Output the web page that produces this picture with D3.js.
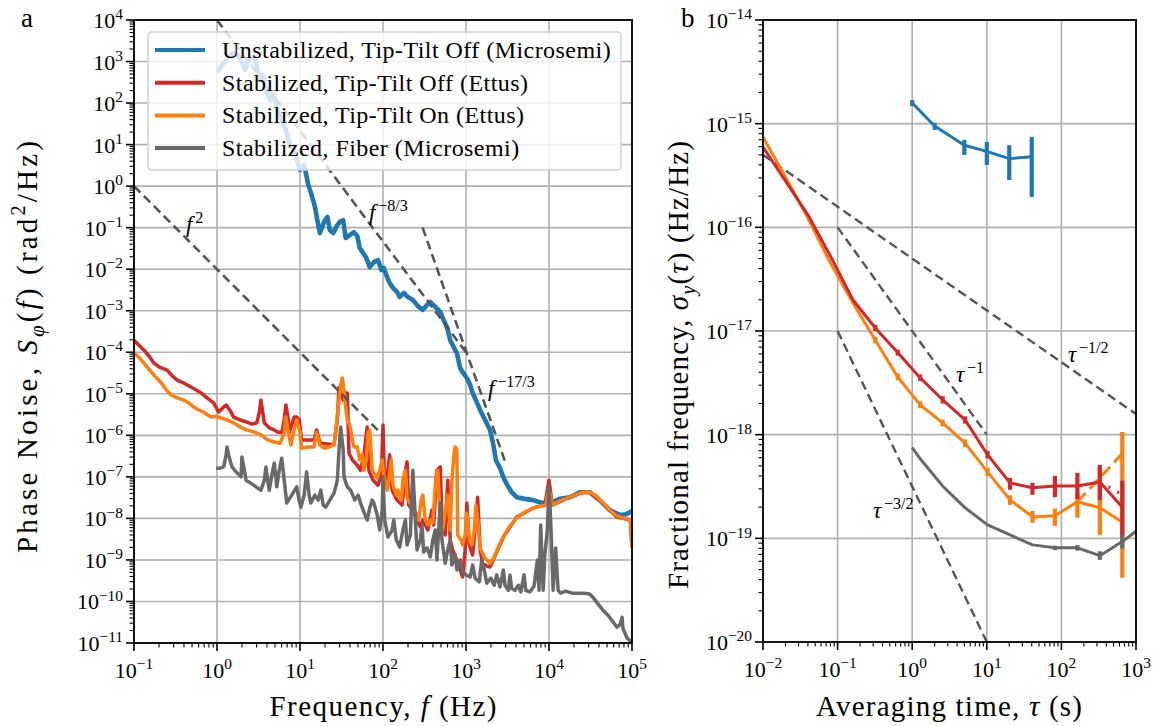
<!DOCTYPE html>
<html lang="en">
<head>
<meta charset="utf-8">
<title>Phase noise and fractional frequency stability</title>
<script src="https://d3js.org/d3.v7.min.js"></script>
<style>
body{margin:0;background:#fff;}
svg text{font-family:"Liberation Serif","Times New Roman",serif;fill:#000;}
</style>
</head>
<body>
<script>
// ---------- panel a: phase noise, pairs are [log10 f (Hz), log10 S (rad^2/Hz)] ----------
const unstabilizedLog = [[0.01,2.75],[0.06,2.92],[0.13,3.08],[0.19,3.21],[0.25,3.16],[0.30,2.99],[0.34,2.80],[0.37,2.99],[0.42,3.08],[0.46,3.11],[0.48,2.84],[0.52,2.56],[0.55,2.68],[0.59,2.31],[0.64,2.07],[0.69,2.19],[0.73,1.83],[0.78,1.59],[0.83,1.35],[0.88,0.99],[0.93,0.87],[0.96,0.63],[1.00,0.39],[1.05,0.51],[1.10,0.03],[1.14,-0.21],[1.18,-0.50],[1.22,-0.94],[1.24,-1.13],[1.29,-0.86],[1.33,-0.74],[1.36,-1.06],[1.40,-1.13],[1.45,-0.94],[1.48,-0.86],[1.52,-0.82],[1.55,-1.25],[1.60,-1.18],[1.65,-1.11],[1.69,-1.20],[1.72,-1.49],[1.76,-1.61],[1.80,-1.73],[1.84,-1.95],[1.89,-1.83],[1.94,-1.78],[1.98,-2.02],[2.01,-1.97],[2.05,-2.19],[2.08,-2.33],[2.12,-2.45],[2.17,-2.55],[2.20,-2.67],[2.25,-2.57],[2.30,-2.67],[2.36,-2.74],[2.42,-2.89],[2.48,-2.98],[2.53,-2.86],[2.57,-2.79],[2.63,-2.91],[2.69,-3.03],[2.73,-3.22],[2.77,-3.39],[2.81,-3.71],[2.84,-3.83],[2.89,-4.02],[2.93,-4.38],[2.96,-4.48],[3.01,-4.62],[3.05,-4.79],[3.08,-4.98],[3.13,-5.20],[3.17,-5.39],[3.23,-5.63],[3.29,-5.87],[3.33,-6.23],[3.36,-6.60],[3.41,-6.79],[3.45,-7.01],[3.49,-7.17],[3.55,-7.37],[3.61,-7.49],[3.71,-7.53],[3.81,-7.56],[3.89,-7.61],[4.00,-7.65],[4.13,-7.53],[4.25,-7.49],[4.37,-7.37],[4.49,-7.37],[4.61,-7.56],[4.73,-7.80],[4.86,-7.92],[4.93,-7.90],[5.00,-7.82]];

const tiltOffLog = [[-1.00,-3.71],[-0.94,-3.83],[-0.88,-3.95],[-0.82,-4.09],[-0.76,-4.26],[-0.69,-4.36],[-0.60,-4.43],[-0.54,-4.57],[-0.48,-4.67],[-0.40,-4.74],[-0.31,-4.84],[-0.25,-4.91],[-0.19,-4.98],[-0.12,-5.10],[-0.04,-5.22],[0.02,-5.44],[0.07,-5.34],[0.11,-5.27],[0.16,-5.41],[0.20,-5.56],[0.28,-5.63],[0.36,-5.68],[0.42,-5.73],[0.48,-5.70],[0.51,-5.44],[0.53,-5.15],[0.55,-5.44],[0.57,-5.70],[0.63,-5.82],[0.69,-5.87],[0.73,-5.92],[0.78,-5.94],[0.81,-5.63],[0.83,-5.27],[0.86,-5.63],[0.87,-5.94],[0.90,-5.75],[0.93,-5.56],[0.96,-5.56],[0.99,-5.63],[1.02,-6.11],[1.10,-6.11],[1.17,-6.11],[1.20,-5.87],[1.23,-6.11],[1.25,-6.19],[1.33,-6.21],[1.41,-6.23],[1.45,-5.63],[1.47,-4.84],[1.49,-4.98],[1.52,-5.15],[1.54,-4.98],[1.57,-4.98],[1.59,-6.43],[1.63,-6.59],[1.69,-6.72],[1.73,-6.84],[1.77,-6.47],[1.81,-5.80],[1.83,-6.84],[1.88,-7.08],[1.94,-7.20],[1.98,-6.96],[2.00,-5.75],[2.02,-7.24],[2.06,-6.84],[2.08,-6.47],[2.11,-7.32],[2.17,-7.56],[2.23,-7.68],[2.27,-6.84],[2.29,-6.64],[2.31,-7.68],[2.36,-7.80],[2.41,-8.04],[2.45,-8.21],[2.48,-8.04],[2.54,-8.28],[2.59,-7.80],[2.61,-8.16],[2.65,-6.84],[2.69,-6.76],[2.71,-8.04],[2.75,-8.40],[2.78,-7.08],[2.81,-8.52],[2.84,-8.76],[2.89,-9.00],[2.93,-9.24],[2.96,-9.41],[2.99,-8.76],[3.01,-7.63],[3.04,-8.64],[3.08,-8.88],[3.12,-8.04],[3.14,-7.49],[3.17,-8.76],[3.20,-9.08],[3.25,-9.15],[3.29,-9.17],[3.45,-8.45],[3.61,-7.97],[3.81,-7.75],[3.95,-7.68],[4.00,-7.08],[4.04,-7.68],[4.22,-7.51],[4.41,-7.37],[4.49,-7.37],[4.65,-7.63],[4.82,-7.97],[4.98,-8.04],[5.00,-8.69]];

const tiltOnLog = [[-1.00,-4.02],[-0.93,-4.14],[-0.84,-4.36],[-0.76,-4.55],[-0.67,-4.74],[-0.61,-4.91],[-0.55,-5.03],[-0.48,-5.10],[-0.40,-5.15],[-0.34,-5.22],[-0.28,-5.32],[-0.22,-5.39],[-0.16,-5.44],[-0.11,-5.51],[-0.07,-5.56],[-0.01,-5.54],[0.05,-5.58],[0.12,-5.63],[0.20,-5.70],[0.28,-5.80],[0.36,-5.87],[0.45,-5.92],[0.53,-5.99],[0.61,-6.11],[0.69,-6.16],[0.76,-6.19],[0.81,-5.94],[0.83,-5.56],[0.86,-5.94],[0.89,-6.23],[0.93,-5.87],[0.96,-5.63],[1.00,-5.92],[1.02,-6.31],[1.10,-6.28],[1.17,-6.28],[1.20,-5.94],[1.24,-6.23],[1.29,-6.31],[1.35,-6.28],[1.41,-6.23],[1.43,-5.92],[1.47,-5.15],[1.49,-4.79],[1.51,-4.62],[1.53,-4.91],[1.54,-5.15],[1.57,-5.63],[1.60,-5.75],[1.63,-6.11],[1.65,-6.28],[1.69,-6.28],[1.72,-6.59],[1.75,-6.47],[1.77,-6.84],[1.80,-6.59],[1.82,-5.94],[1.84,-5.87],[1.87,-6.84],[1.89,-6.91],[1.93,-7.03],[1.96,-6.84],[1.99,-6.59],[2.01,-6.96],[2.05,-7.32],[2.07,-7.08],[2.10,-6.59],[2.12,-7.20],[2.16,-7.44],[2.18,-7.32],[2.22,-7.56],[2.24,-7.08],[2.27,-6.84],[2.29,-7.51],[2.34,-7.68],[2.36,-7.80],[2.40,-7.87],[2.43,-8.04],[2.46,-7.56],[2.48,-7.44],[2.51,-8.04],[2.54,-8.16],[2.58,-8.04],[2.60,-8.11],[2.64,-6.96],[2.66,-6.84],[2.69,-8.04],[2.72,-8.28],[2.76,-7.68],[2.78,-7.44],[2.81,-8.28],[2.83,-7.08],[2.86,-6.35],[2.87,-6.28],[2.89,-6.35],[2.90,-8.40],[2.94,-8.52],[2.96,-8.64],[2.99,-8.40],[3.01,-7.87],[3.04,-8.52],[3.07,-8.64],[3.10,-8.28],[3.12,-7.68],[3.14,-8.04],[3.17,-8.71],[3.22,-8.93],[3.25,-9.00],[3.29,-9.08],[3.34,-8.93],[3.39,-8.69],[3.45,-8.45],[3.52,-8.21],[3.61,-7.99],[3.71,-7.85],[3.81,-7.75],[3.90,-7.70],[3.96,-7.68],[4.00,-7.27],[4.04,-7.68],[4.13,-7.58],[4.22,-7.51],[4.31,-7.44],[4.41,-7.37],[4.49,-7.37],[4.57,-7.46],[4.65,-7.63],[4.73,-7.80],[4.82,-7.94],[4.90,-7.99],[4.98,-8.04],[5.00,-8.69]];

const fiberLog = [[-0.01,-6.79],[0.04,-6.79],[0.08,-6.76],[0.11,-6.47],[0.12,-6.28],[0.14,-6.47],[0.18,-6.76],[0.23,-6.88],[0.29,-7.00],[0.30,-6.52],[0.33,-6.84],[0.35,-7.08],[0.42,-7.17],[0.49,-7.27],[0.53,-7.32],[0.57,-7.08],[0.59,-6.76],[0.61,-7.08],[0.63,-7.32],[0.66,-6.96],[0.69,-6.67],[0.71,-7.03],[0.72,-7.24],[0.75,-6.84],[0.78,-6.55],[0.81,-7.08],[0.84,-7.63],[0.90,-7.44],[0.96,-7.24],[0.99,-7.56],[1.01,-7.73],[1.05,-7.44],[1.08,-6.88],[1.11,-7.44],[1.13,-7.63],[1.18,-7.44],[1.22,-7.56],[1.25,-7.32],[1.28,-7.68],[1.31,-7.73],[1.36,-7.56],[1.41,-7.39],[1.45,-7.08],[1.47,-6.35],[1.49,-5.80],[1.52,-6.35],[1.53,-7.00],[1.57,-7.24],[1.61,-7.32],[1.66,-7.56],[1.70,-7.44],[1.73,-7.63],[1.77,-7.85],[1.81,-8.04],[1.84,-7.75],[1.87,-7.56],[1.89,-7.63],[1.93,-7.92],[1.96,-8.28],[1.99,-7.80],[2.00,-7.00],[2.02,-8.04],[2.06,-8.45],[2.11,-8.28],[2.13,-8.04],[2.16,-8.52],[2.20,-8.69],[2.24,-8.28],[2.27,-8.04],[2.29,-8.64],[2.33,-8.40],[2.35,-7.32],[2.36,-6.84],[2.39,-8.04],[2.41,-8.76],[2.45,-8.52],[2.47,-8.16],[2.49,-8.81],[2.53,-8.71],[2.57,-8.93],[2.60,-8.52],[2.63,-8.28],[2.65,-9.00],[2.69,-7.63],[2.71,-8.52],[2.75,-9.08],[2.78,-8.76],[2.81,-8.52],[2.83,-9.12],[2.87,-8.88],[2.89,-9.24],[2.93,-9.00],[2.96,-9.29],[3.00,-9.36],[3.05,-9.41],[3.08,-9.12],[3.11,-9.44],[3.16,-9.53],[3.19,-9.00],[3.22,-9.24],[3.25,-9.56],[3.30,-9.44],[3.34,-9.61],[3.37,-9.36],[3.41,-9.65],[3.45,-9.24],[3.47,-9.61],[3.51,-9.73],[3.53,-9.36],[3.55,-9.68],[3.59,-9.73],[3.63,-9.61],[3.66,-9.77],[3.70,-9.36],[3.72,-9.73],[3.77,-9.77],[3.82,-9.63],[3.86,-9.00],[3.88,-9.73],[3.90,-8.16],[3.93,-9.73],[3.95,-8.88],[3.98,-8.28],[4.00,-7.24],[4.02,-8.04],[4.05,-9.73],[4.08,-8.71],[4.11,-9.73],[4.14,-9.80],[4.20,-9.75],[4.28,-9.80],[4.35,-9.80],[4.42,-9.80],[4.49,-9.82],[4.54,-9.92],[4.59,-10.06],[4.65,-10.21],[4.71,-10.33],[4.77,-10.49],[4.82,-10.62],[4.86,-10.54],[4.88,-10.38],[4.89,-10.64],[4.94,-10.88],[4.98,-10.95],[5.00,-10.98]];

// power-law guides, [f, S] end points
const guideF2 = [[0.1, 1], [100, 1e-6]];
const guideF83 = [[1, 1e4], [1000, 1e-4]];
const guideF173 = [[300, 0.1], [3000, 2.15e-7]];

const legendLabels = ["Unstabilized, Tip-Tilt Off (Microsemi)", "Stabilized, Tip-Tilt Off (Ettus)",
  "Stabilized, Tip-Tilt On (Ettus)", "Stabilized, Fiber (Microsemi)"];
const seriesColors = ["#1f77b4", "#d62728", "#ff7f0e", "#696969"];

// ---------- panel b: Allan deviation ----------
const tauGrid = [0.01, 0.02, 0.04, 0.08, 0.16, 0.32, 0.64, 1.28, 2.56, 5.12, 10.24, 20.48, 40.96, 81.92, 163.84, 327.68, 655.36];
const adevTiltOff = [5.96e-16, 2.8e-16, 1.32e-16, 5.3e-17, 2.0e-17, 1.07e-17, 6.2e-18, 3.53e-18, 2.17e-18, 1.39e-18, 6.4e-19, 3.43e-19, 3.07e-19, 3.2e-19, 3.2e-19, 3.5e-19, 2.0e-19];
const errTiltOff = [null, null, null, null, null, [1.0e-17, 1.15e-17], [5.8e-18, 6.6e-18], [3.3e-18, 3.8e-18], [2.0e-18, 2.35e-18], [1.28e-18, 1.5e-18], [5.9e-19, 7.0e-19], [2.94e-19, 3.83e-19], [2.63e-19, 3.43e-19], [2.5e-19, 4.0e-19], [2.4e-19, 4.28e-19], [2.34e-19, 5.1e-19], [1.06e-19, 3.6e-19]];
const adevTiltOn = [7.45e-16, 3.06e-16, 1.23e-16, 4.54e-17, 1.87e-17, 8.2e-18, 3.6e-18, 1.94e-18, 1.3e-18, 8.3e-19, 4.37e-19, 2.35e-19, 1.61e-19, 1.65e-19, 2.25e-19, 1.97e-19, 1.44e-19];
const errTiltOn = [null, null, null, null, null, [7.6e-18, 8.8e-18], [3.35e-18, 3.9e-18], [1.8e-18, 2.1e-18], [1.2e-18, 1.4e-18], [7.6e-19, 9.0e-19], [4.0e-19, 4.8e-19], [2.1e-19, 2.6e-19], [1.41e-19, 1.84e-19], [1.32e-19, 1.94e-19], [1.58e-19, 2.75e-19], [1.08e-19, 4.9e-19], [4.16e-20, 1.06e-18]];
const tauOnDashed = [163.84, 327.68, 655.36];
const adevOnDashed = [2.25e-19, 3.83e-19, 6.6e-19];
const tauOffDashed = [327.68, 655.36];
const adevOffDashed = [3.5e-19, 2.63e-19];

const tauUnstab = [1, 2, 5, 10, 20, 40];
const adevUnstab = [1.58e-15, 9.5e-16, 6.2e-16, 5.4e-16, 4.6e-16, 4.8e-16];
const errUnstab = [[1.48e-15, 1.69e-15], [8.7e-16, 1.02e-15], [5.0e-16, 6.97e-16], [4.0e-16, 6.67e-16], [2.86e-16, 6.2e-16], [1.96e-16, 7.45e-16]];

const tauFiber = [1, 1.28, 2.56, 5.12, 10.24, 20.48, 40.96, 81.92, 163.84, 327.68, 655.36, 1000];
const adevFiber = [7.5e-19, 5.85e-19, 3.2e-19, 1.97e-19, 1.35e-19, 1.08e-19, 8.65e-20, 8.1e-20, 8.1e-20, 6.8e-20, 9.3e-20, 1.17e-19];
const errFiber = [null, null, null, null, null, null, null, [7.7e-20, 8.5e-20], [7.6e-20, 8.6e-20], [6.2e-20, 7.5e-20], [8.0e-20, 1.08e-19], null];

const guideHalf = [[0.01, 5e-16], [1000, 1.58e-18]];
const guideOne = [[0.1, 1e-16], [10, 1e-18]];
const guideThreeHalf = [[0.1, 1e-17], [10, 1e-20]];

// ---------- layout ----------
const W = 1158, H = 726;
const boxA = {left: 134, right: 632, top: 20, bottom: 643};
const boxB = {left: 763, right: 1136, top: 20, bottom: 642};

const svg = d3.select("body").append("svg").attr("width", W).attr("height", H);

const xA = d3.scaleLog().domain([1e-1, 1e5]).range([boxA.left, boxA.right]);
const yA = d3.scaleLog().domain([1e-11, 1e4]).range([boxA.bottom, boxA.top]);
const xB = d3.scaleLog().domain([1e-2, 1e3]).range([boxB.left, boxB.right]);
const yB = d3.scaleLog().domain([1e-20, 1e-14]).range([boxB.bottom, boxB.top]);

// text with italic / super / subscript runs
function rich(g, parts, size) {
  const t = g.append("text").attr("font-size", size);
  let shift = 0, prevItalic = false;
  parts.forEach(p => {
    const target = p.sup ? -0.4 * size : p.sub ? 0.25 * size : 0;
    const s = t.append("tspan").text(p.t).attr("dy", target - shift);
    if (p.sup || p.sub) s.attr("font-size", size * 0.7);
    if (p.sup && prevItalic) s.attr("dx", 0.12 * size);
    if (p.it) s.attr("font-style", "italic");
    shift = target;
    prevItalic = !!p.it;
  });
  return t;
}
const expText = k => (k < 0 ? "\u2212" + (-k) : String(k));

function drawFrame(x, y, box, xr, yr, id) {
  const g = svg.append("g");
  svg.append("clipPath").attr("id", id).append("rect")
    .attr("x", box.left).attr("y", box.top)
    .attr("width", box.right - box.left).attr("height", box.bottom - box.top);
  const xMaj = d3.range(xr[0], xr[1] + 1), yMaj = d3.range(yr[0], yr[1] + 1);
  // grid
  g.selectAll(".gx").data(xMaj).join("line")
    .attr("x1", d => x(10 ** d)).attr("x2", d => x(10 ** d))
    .attr("y1", box.top).attr("y2", box.bottom)
    .attr("stroke", "#b0b0b0").attr("stroke-width", 1.6);
  g.selectAll(".gy").data(yMaj).join("line")
    .attr("y1", d => y(10 ** d)).attr("y2", d => y(10 ** d))
    .attr("x1", box.left).attr("x2", box.right)
    .attr("stroke", "#b0b0b0").attr("stroke-width", 1.6);
  return g;
}

function drawAxes(x, y, box, xr, yr) {
  const g = svg.append("g");
  const minor = r => {
    const out = [];
    for (let k = r[0]; k < r[1]; k++) for (let m = 2; m <= 9; m++) out.push(m * 10 ** k);
    return out;
  };
  const xMaj = d3.range(xr[0], xr[1] + 1), yMaj = d3.range(yr[0], yr[1] + 1);
  g.selectAll(".mx").data(minor(xr)).join("line")
    .attr("x1", d => x(d)).attr("x2", d => x(d))
    .attr("y1", box.bottom).attr("y2", box.bottom + 4.5)
    .attr("stroke", "#000").attr("stroke-width", 1.1);
  g.selectAll(".my").data(minor(yr)).join("line")
    .attr("y1", d => y(d)).attr("y2", d => y(d))
    .attr("x1", box.left).attr("x2", box.left - 4.5)
    .attr("stroke", "#000").attr("stroke-width", 1.1);
  g.selectAll(".Mx").data(xMaj).join("line")
    .attr("x1", d => x(10 ** d)).attr("x2", d => x(10 ** d))
    .attr("y1", box.bottom).attr("y2", box.bottom + 8)
    .attr("stroke", "#000").attr("stroke-width", 1.6);
  g.selectAll(".My").data(yMaj).join("line")
    .attr("y1", d => y(10 ** d)).attr("y2", d => y(10 ** d))
    .attr("x1", box.left).attr("x2", box.left - 8)
    .attr("stroke", "#000").attr("stroke-width", 1.6);
  g.append("rect").attr("x", box.left).attr("y", box.top)
    .attr("width", box.right - box.left).attr("height", box.bottom - box.top)
    .attr("fill", "none").attr("stroke", "#000").attr("stroke-width", 1.8);
  xMaj.forEach(k => {
    rich(g, [{t: "10"}, {t: expText(k), sup: true}], 22)
      .attr("x", x(10 ** k)).attr("y", box.bottom + 35).attr("text-anchor", "middle");
  });
  yMaj.forEach(k => {
    rich(g, [{t: "10"}, {t: expText(k), sup: true}], 22)
      .attr("x", box.left - 11).attr("y", y(10 ** k) + 8).attr("text-anchor", "end");
  });
}

// ---------- panel a ----------
drawFrame(xA, yA, boxA, [-1, 5], [-11, 4], "clipA");
const plotA = svg.append("g").attr("clip-path", "url(#clipA)");
const lineLog = d3.line().x(d => xA(10 ** d[0])).y(d => yA(10 ** d[1]));
[unstabilizedLog, tiltOffLog, tiltOnLog, fiberLog].forEach((s, i) => {
  plotA.append("path").attr("d", lineLog(s)).attr("fill", "none")
    .attr("stroke", seriesColors[i]).attr("stroke-width", i === 0 ? 4.6 : 3.5)
    .attr("stroke-linejoin", "round");
});
const lineA = d3.line().x(d => xA(d[0])).y(d => yA(d[1]));
[guideF2, guideF83, guideF173].forEach(s => {
  plotA.append("path").attr("d", lineA(s)).attr("fill", "none")
    .attr("stroke", "#555").attr("stroke-width", 2.6).attr("stroke-dasharray", "9,5");
});
rich(svg, [{t: "f", it: true}, {t: "2", sup: true}], 23).attr("x", 186).attr("y", 232);
rich(svg, [{t: "f", it: true}, {t: "\u22128/3", sup: true}], 23).attr("x", 369).attr("y", 220);
rich(svg, [{t: "f", it: true}, {t: "\u221217/3", sup: true}], 23).attr("x", 488).attr("y", 396);

// legend
const leg = svg.append("g");
leg.append("rect").attr("x", 148).attr("y", 32).attr("width", 473).attr("height", 138)
  .attr("rx", 4).attr("fill", "#fff").attr("fill-opacity", 0.8)
  .attr("stroke", "#d0d0d0").attr("stroke-width", 1.4);
legendLabels.forEach((lab, i) => {
  const yy = 50 + i * 32.7;
  leg.append("line").attr("x1", 155).attr("x2", 205).attr("y1", yy).attr("y2", yy)
    .attr("stroke", seriesColors[i]).attr("stroke-width", 4);
  leg.append("text").attr("x", 222).attr("y", yy + 8).attr("font-size", 24)
    .attr("letter-spacing", 0.45).text(lab);
});
drawAxes(xA, yA, boxA, [-1, 5], [-11, 4]);

rich(svg, [{t: "Frequency, "}, {t: "f", it: true}, {t: " (Hz)"}], 29)
  .attr("x", 383).attr("y", 716).attr("text-anchor", "middle")
  .attr("textLength", 227).attr("lengthAdjust", "spacing");
rich(svg.append("g").attr("transform", "translate(37,347) rotate(-90)"),
  [{t: "Phase Noise, "}, {t: "S", it: true}, {t: "\u03c6", sub: true, it: true}, {t: "("}, {t: "f", it: true},
   {t: ") (rad"}, {t: "2", sup: true}, {t: "/Hz)"}], 29).attr("text-anchor", "middle")
  .attr("textLength", 412).attr("lengthAdjust", "spacing");
svg.append("text").attr("x", 21).attr("y", 27).attr("font-size", 27).text("a");

// ---------- panel b ----------
drawFrame(xB, yB, boxB, [-2, 3], [-20, -14], "clipB");
const plotB = svg.append("g").attr("clip-path", "url(#clipB)");
const lineB = d3.line().x(d => xB(d[0])).y(d => yB(d[1]));
[guideHalf, guideOne, guideThreeHalf].forEach(s => {
  plotB.append("path").attr("d", lineB(s)).attr("fill", "none")
    .attr("stroke", "#555").attr("stroke-width", 2.4).attr("stroke-dasharray", "9,5");
});
function adevSeries(taus, vals, errs, color) {
  plotB.append("path").attr("d", lineB(d3.zip(taus, vals))).attr("fill", "none")
    .attr("stroke", color).attr("stroke-width", 3).attr("stroke-linejoin", "round");
  taus.forEach((t, i) => {
    if (!errs[i]) return;
    plotB.append("line").attr("x1", xB(t)).attr("x2", xB(t))
      .attr("y1", yB(errs[i][0])).attr("y2", yB(errs[i][1]))
      .attr("stroke", color).attr("stroke-width", 4.2);
  });
}
adevSeries(tauUnstab, adevUnstab, errUnstab, seriesColors[0]);
plotB.append("path").attr("d", lineB(d3.zip(tauOnDashed, adevOnDashed))).attr("fill", "none")
  .attr("stroke", seriesColors[2]).attr("stroke-width", 3).attr("stroke-dasharray", "12,6");
adevSeries(tauGrid, adevTiltOn, errTiltOn, seriesColors[2]);
plotB.append("path").attr("d", lineB(d3.zip(tauOffDashed, adevOffDashed))).attr("fill", "none")
  .attr("stroke", seriesColors[1]).attr("stroke-width", 3).attr("stroke-dasharray", "2,8");
adevSeries(tauGrid, adevTiltOff, errTiltOff, seriesColors[1]);
adevSeries(tauFiber, adevFiber, errFiber, seriesColors[3]);

rich(svg, [{t: "\u03c4", it: true}, {t: "\u22121", sup: true}], 23).attr("x", 956).attr("y", 382);
rich(svg, [{t: "\u03c4", it: true}, {t: "\u22121/2", sup: true}], 23).attr("x", 1068).attr("y", 362);
rich(svg, [{t: "\u03c4", it: true}, {t: "\u22123/2", sup: true}], 23).attr("x", 873).attr("y", 518);

drawAxes(xB, yB, boxB, [-2, 3], [-20, -14]);
rich(svg, [{t: "Averaging time, "}, {t: "\u03c4", it: true}, {t: " (s)"}], 29)
  .attr("x", 949).attr("y", 716).attr("text-anchor", "middle")
  .attr("textLength", 266).attr("lengthAdjust", "spacing");
rich(svg.append("g").attr("transform", "translate(688,365) rotate(-90)"),
  [{t: "Fractional frequency, "}, {t: "\u03c3", it: true}, {t: "y", sub: true, it: true}, {t: "("},
   {t: "\u03c4", it: true}, {t: ") (Hz/Hz)"}], 29).attr("text-anchor", "middle")
  .attr("textLength", 448).attr("lengthAdjust", "spacing");
svg.append("text").attr("x", 681).attr("y", 27).attr("font-size", 27).text("b");
</script>
</body>
</html>
